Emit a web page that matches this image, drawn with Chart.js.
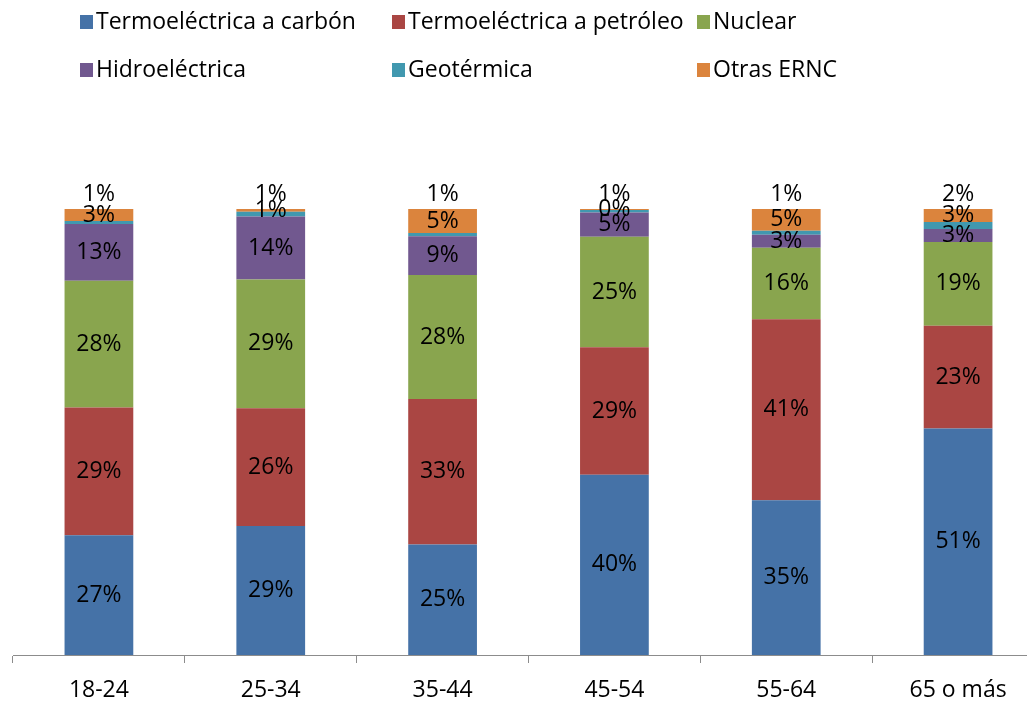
<!DOCTYPE html>
<html>
<head>
<meta charset="utf-8">
<script src="https://cdn.jsdelivr.net/npm/chart.js@4.4.1/dist/chart.umd.min.js"></script>
<style>
  body { margin: 0; background: #ffffff; overflow: hidden; }
</style>
</head>
<body>
<canvas id="graph1" width="1044" height="703"></canvas>
<script>
const categories = ['18-24', '25-34', '35-44', '45-54', '55-64', '65 o más'];
const carbon = [26.85, 28.9, 24.8, 40.4, 34.7, 50.8];
const petroleo = [28.64, 26.4, 32.6, 28.6, 40.6, 23.0];
const nuclear = [28.41, 28.9, 27.8, 24.8, 16.0, 18.8];
const hidro = [12.75, 14.1, 8.7, 5.4, 2.9, 2.9];
const geotermica = [0.67, 1.1, 0.7, 0.6, 0.9, 1.6];
const otras = [2.68, 0.6, 5.4, 0.2, 4.9, 2.9];

const FONT = "'Open Sans', sans-serif";

// labels de cada segmento (geotermica va arriba de la barra)
const segLabels = {
    id: 'segLabels',
    afterDatasetsDraw(chart) {
        const ctx = chart.ctx;
        ctx.save();
        ctx.font = '23px ' + FONT;
        ctx.fillStyle = '#000000';
        ctx.textAlign = 'center';
        ctx.textBaseline = 'middle';
        chart.data.datasets.forEach((ds, i) => {
            const meta = chart.getDatasetMeta(i);
            meta.data.forEach((bar, j) => {
                const txt = Math.round(ds.data[j]) + '%';
                let y = (bar.y + bar.base) / 2;
                if (ds.label === 'Geotérmica') {
                    y = chart.scales.y.getPixelForValue(100) - 15;
                }
                ctx.fillText(txt, bar.x, y);
            });
        });
        ctx.restore();
    }
};

// leyenda en dos filas con columnas alineadas
const gridLegend = {
    id: 'gridLegend',
    afterDraw(chart) {
        const ctx = chart.ctx;
        const cols = [80, 392, 697];
        const rows = [22, 70];
        ctx.save();
        ctx.font = '23px ' + FONT;
        ctx.textBaseline = 'middle';
        ctx.textAlign = 'left';
        chart.data.datasets.forEach((ds, i) => {
            const x = cols[i % 3];
            const y = rows[Math.floor(i / 3)];
            ctx.fillStyle = ds.backgroundColor;
            ctx.fillRect(x, y - 7, 13, 14);
            ctx.fillStyle = '#000000';
            ctx.fillText(ds.label, x + 16, y);
        });
        ctx.restore();
    }
};

const chart1 = document.getElementById('graph1').getContext('2d');
const myChart1 = new Chart(chart1, {
    type: 'bar',
    data: {
        labels: categories,
        datasets: [
            { label: 'Termoeléctrica a carbón', data: carbon, backgroundColor: '#4572A7' },
            { label: 'Termoeléctrica a petróleo', data: petroleo, backgroundColor: '#AA4643' },
            { label: 'Nuclear', data: nuclear, backgroundColor: '#89A54E' },
            { label: 'Hidroeléctrica', data: hidro, backgroundColor: '#71588F' },
            { label: 'Geotérmica', data: geotermica, backgroundColor: '#4198AF' },
            { label: 'Otras ERNC', data: otras, backgroundColor: '#DB843D' }
        ]
    },
    options: {
        responsive: false,
        animation: false,
        categoryPercentage: 1,
        barPercentage: 0.4,
        layout: {
            padding: { top: 209, left: 13, right: 0, bottom: 0 }
        },
        scales: {
            x: {
                stacked: true,
                afterFit: (scale) => { scale.height = 48; },
                border: { display: true, color: '#8c8c8c', width: 1 },
                grid: {
                    display: true,
                    drawOnChartArea: false,
                    drawTicks: true,
                    tickLength: 8,
                    offset: true,
                    color: '#8c8c8c'
                },
                ticks: {
                    color: '#000000',
                    padding: 14,
                    font: { family: FONT, size: 23 }
                }
            },
            y: {
                stacked: true,
                display: false,
                min: 0,
                max: 100
            }
        },
        plugins: {
            legend: { display: false },
            tooltip: { enabled: false }
        }
    },
    plugins: [segLabels, gridLegend]
});
</script>
</body>
</html>
